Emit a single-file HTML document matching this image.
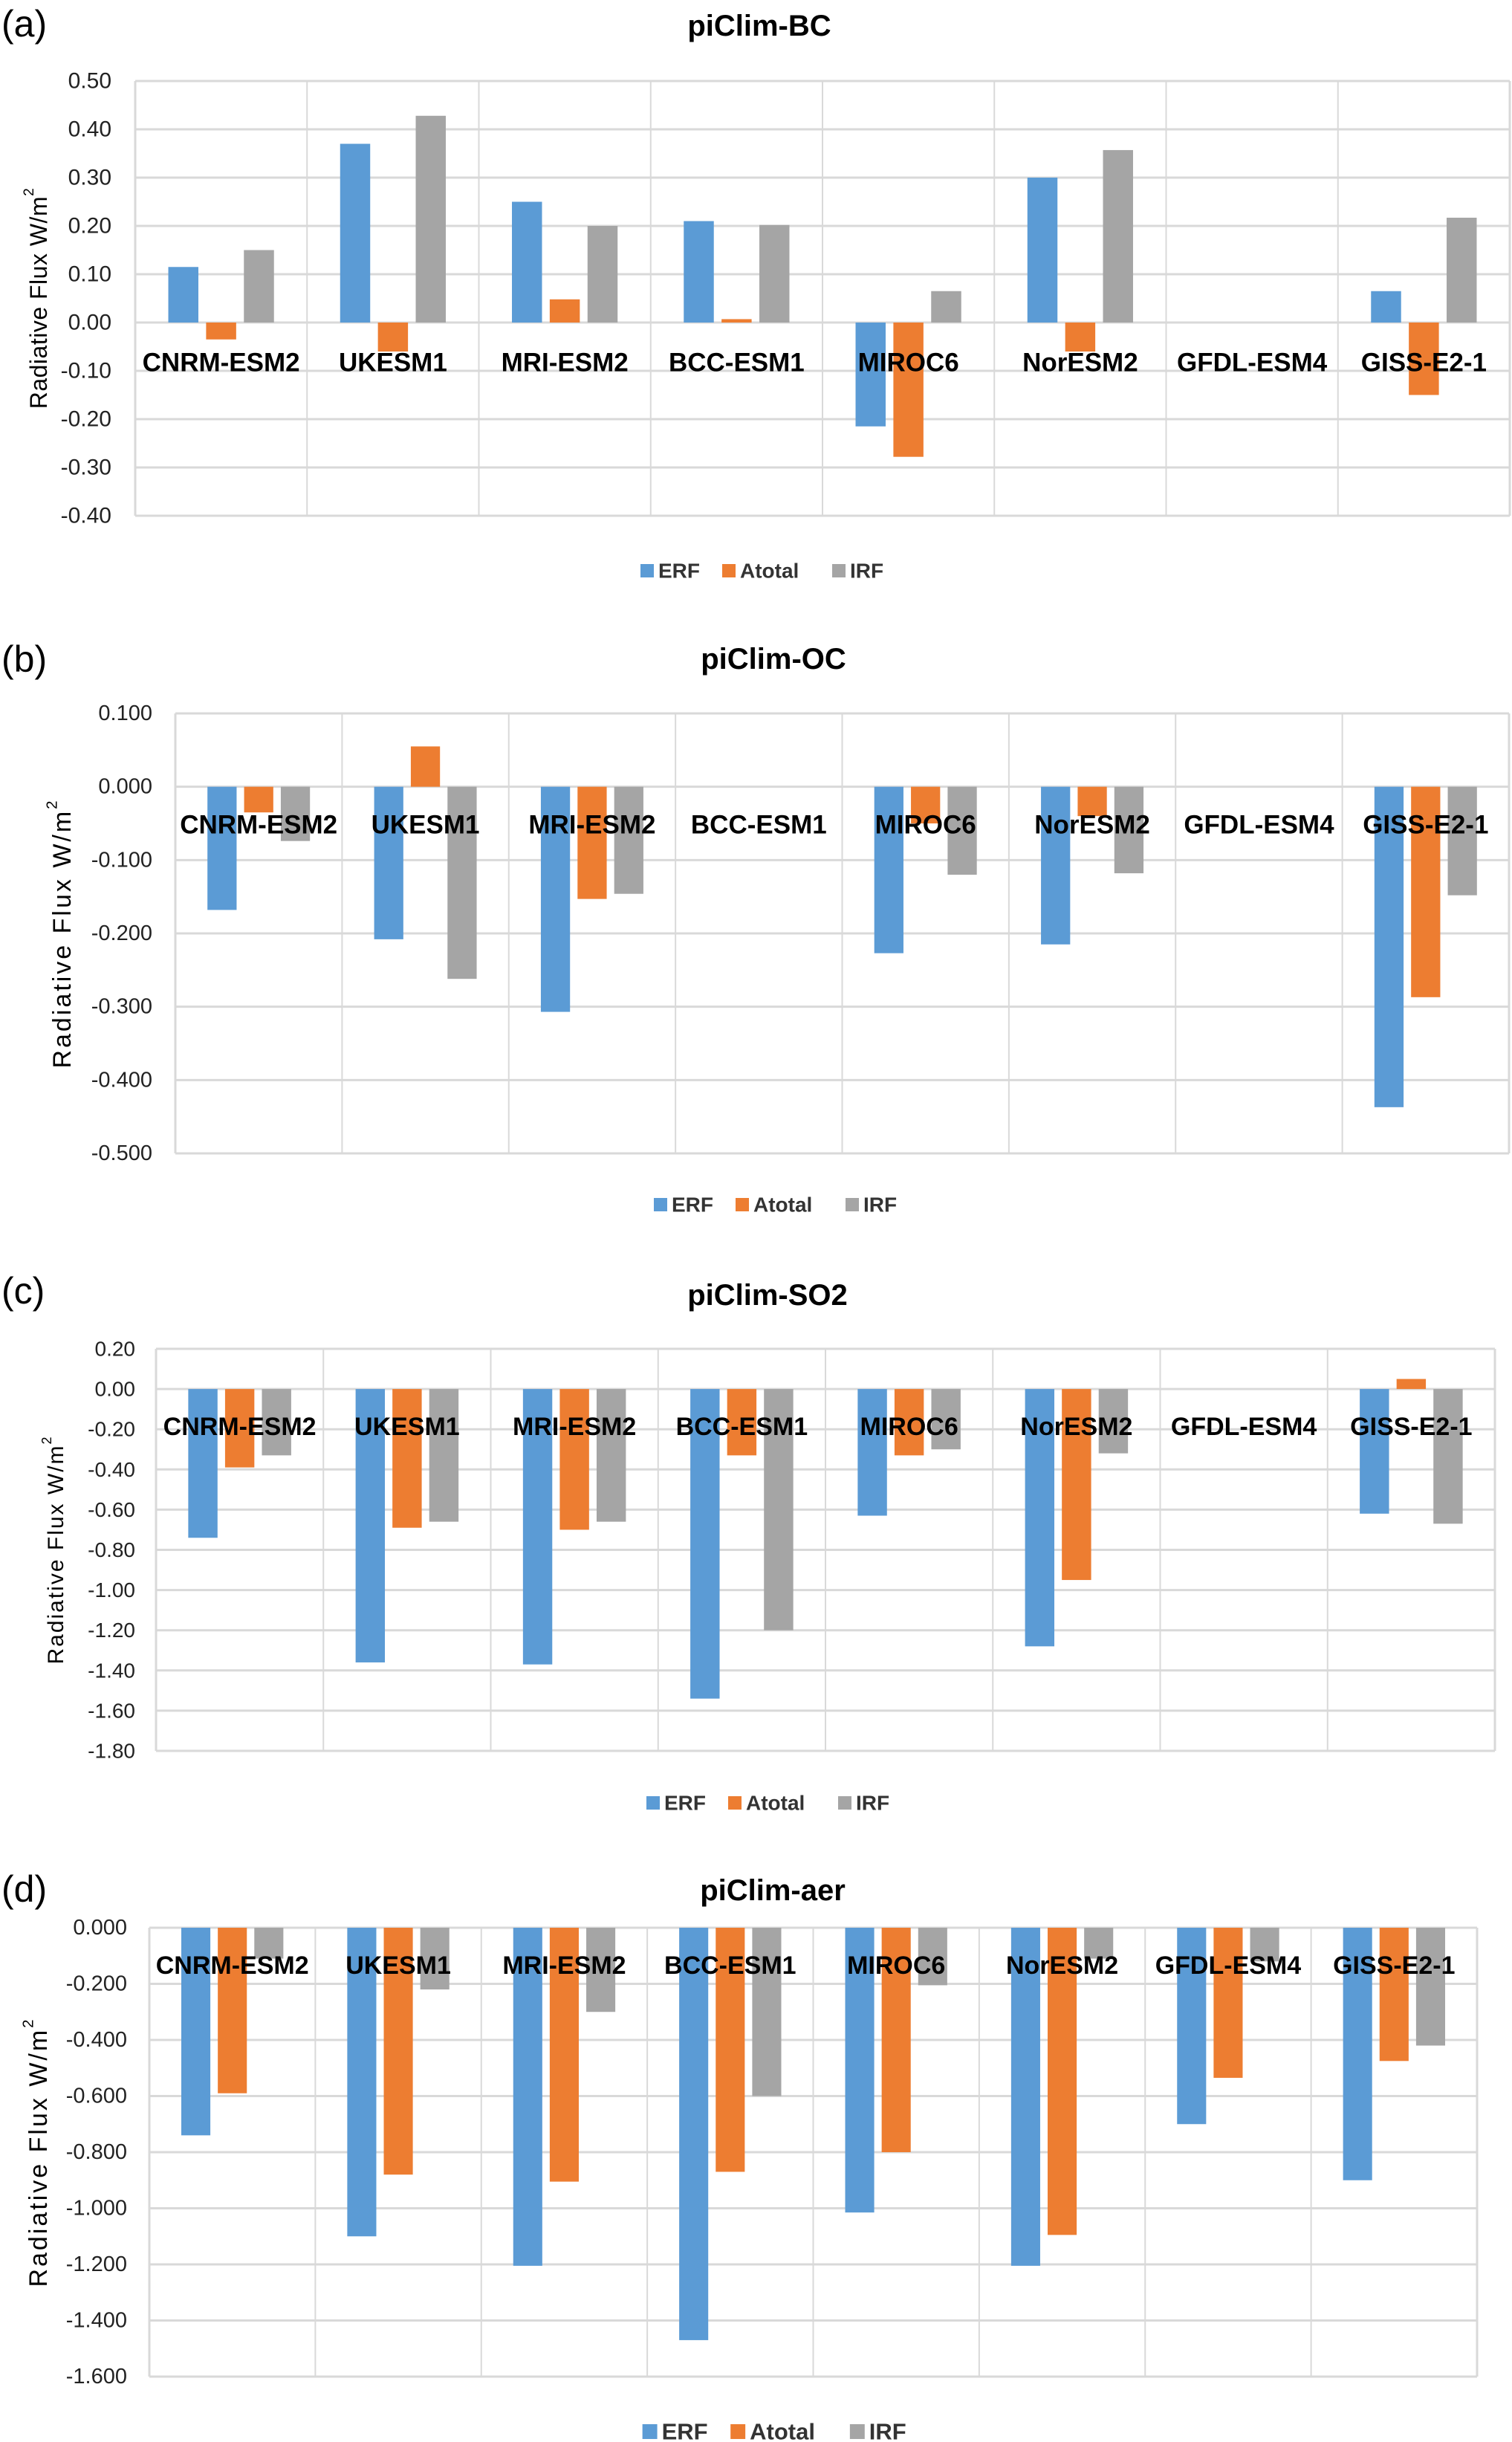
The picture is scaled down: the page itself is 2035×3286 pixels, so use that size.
<!DOCTYPE html>
<html><head><meta charset="utf-8"><style>
html,body{margin:0;padding:0;background:#fff;}
svg{display:block;font-family:"Liberation Sans",sans-serif;}
</style></head><body>
<svg id="fig" width="2035" height="3286" viewBox="0 0 2035 3286" xmlns="http://www.w3.org/2000/svg"></svg>
<script>
const categories = ["CNRM-ESM2","UKESM1","MRI-ESM2","BCC-ESM1","MIROC6","NorESM2","GFDL-ESM4","GISS-E2-1"];
const seriesNames = ["ERF","Atotal","IRF"];
// panel (a) piClim-BC
const bcERF    = [0.115, 0.370, 0.250, 0.210, -0.215, 0.300, null, 0.065];
const bcAtotal = [-0.035, -0.060, 0.048, 0.007, -0.278, -0.060, null, -0.150];
const bcIRF    = [0.150, 0.428, 0.200, 0.202, 0.065, 0.357, null, 0.217];
const bcTicks  = [0.5,0.4,0.3,0.2,0.1,0,-0.1,-0.2,-0.3,-0.4];
// panel (b) piClim-OC
const ocERF    = [-0.168, -0.208, -0.307, null, -0.227, -0.215, null, -0.437];
const ocAtotal = [-0.035, 0.055, -0.153, null, -0.050, -0.040, null, -0.287];
const ocIRF    = [-0.074, -0.262, -0.146, null, -0.120, -0.118, null, -0.148];
const ocTicks  = [0.1,0,-0.1,-0.2,-0.3,-0.4,-0.5];
// panel (c) piClim-SO2
const so2ERF    = [-0.74, -1.36, -1.37, -1.54, -0.63, -1.28, null, -0.62];
const so2Atotal = [-0.39, -0.69, -0.70, -0.33, -0.33, -0.95, null, 0.05];
const so2IRF    = [-0.33, -0.66, -0.66, -1.20, -0.30, -0.32, null, -0.67];
const so2Ticks  = [0.2,0,-0.2,-0.4,-0.6,-0.8,-1.0,-1.2,-1.4,-1.6,-1.8];
// panel (d) piClim-aer
const aerERF    = [-0.740, -1.100, -1.205, -1.470, -1.015, -1.205, -0.700, -0.900];
const aerAtotal = [-0.590, -0.880, -0.905, -0.870, -0.800, -1.095, -0.535, -0.475];
const aerIRF    = [-0.110, -0.220, -0.300, -0.600, -0.205, -0.110, -0.120, -0.420];
const aerTicks  = [0,-0.2,-0.4,-0.6,-0.8,-1.0,-1.2,-1.4,-1.6];

const colors = ["#5b9bd5","#ed7d31","#a5a5a5"];
const NS = "http://www.w3.org/2000/svg";
const svg = document.getElementById("fig");
function mk(tag, attrs, parent){
  const e = document.createElementNS(NS, tag);
  for (const k in attrs) e.setAttribute(k, attrs[k]);
  (parent||svg).appendChild(e);
  return e;
}
const panels = [
  {id:"a", title:"piClim-BC", series:[bcERF,bcAtotal,bcIRF], ticks:bcTicks, dec:2,
   L:182, R:2032, T:109, B:694, tickX:150, tickFs:30, titleX:1022, titleY:35, letterY:32,
   labY:488, labFs:35, legX:1029, legY:768, legFs:28, ytX:52, ytFs:32, ytLs:0.5},
  {id:"b", title:"piClim-OC", series:[ocERF,ocAtotal,ocIRF], ticks:ocTicks, dec:3,
   L:236, R:2031, T:960, B:1552, tickX:205, tickFs:29, titleX:1041, titleY:887, letterY:887,
   labY:1110, labFs:35, legX:1047, legY:1621, legFs:28, ytX:84, ytFs:34, ytLs:3},
  {id:"c", title:"piClim-SO2", series:[so2ERF,so2Atotal,so2IRF], ticks:so2Ticks, dec:2,
   L:210, R:2012, T:1815, B:2356, tickX:182, tickFs:28, titleX:1033, titleY:1743, letterY:1737,
   labY:1920, labFs:34, legX:1037, legY:2426, legFs:28, ytX:75, ytFs:30, ytLs:2},
  {id:"d", title:"piClim-aer", series:[aerERF,aerAtotal,aerIRF], ticks:aerTicks, dec:3,
   L:201, R:1988, T:2594, B:3198, tickX:171, tickFs:29, titleX:1040, titleY:2544, letterY:2542,
   labY:2645, labFs:34, legX:1046, legY:3272, legFs:31, ytX:52, ytFs:34, ytLs:3}
];
panels.forEach(p=>{
  const g = mk("g",{});
  
  
  const ymax = Math.max(...p.ticks), ymin = Math.min(...p.ticks);
  const y = v => p.T + (ymax - v)/(ymax - ymin)*(p.B - p.T);
  const n = categories.length;
  const W = (p.R - p.L)/n;
  const x = i => p.L + i*W;
  const lt = mk("text",{x:2,y:p.letterY,"font-size":50,"dominant-baseline":"central",fill:"#000"},g);
  lt.textContent = "("+p.id+")";
  
  
  const tt = mk("text",{x:p.titleX,y:p.titleY,"font-size":40,"font-weight":"bold","text-anchor":"middle","dominant-baseline":"central",fill:"#000"},g);
  tt.textContent = p.title;
  
  
  p.ticks.forEach(t=>{
    const gl = mk("line",{x1:p.L,x2:p.R,y1:y(t),y2:y(t),stroke:"#d9d9d9","stroke-width":3},g);
    
    
    const tl = mk("text",{x:p.tickX,y:y(t),"font-size":p.tickFs,"text-anchor":"end","dominant-baseline":"central",fill:"#222"},g);
    tl.textContent = t.toFixed(p.dec);
    
    
  });
  for (let i=0;i<=n;i++){
    const vl = mk("line",{x1:x(i),x2:x(i),y1:p.T,y2:p.B,stroke:"#d9d9d9","stroke-width":i==0||i==n?3:2},g);
    
    
  }
  const bw = W*0.175, gap = W*0.045, off = (W - (3*bw+2*gap))/2;
  p.series.forEach((arr,s)=>{
    arr.forEach((v,i)=>{
      if (v===null) return;
      const bx = x(i) + off + s*(bw+gap);
      const y0 = y(0), y1 = y(v);
      const r = mk("rect",{x:bx,y:Math.min(y0,y1),width:bw,height:Math.abs(y1-y0),fill:colors[s]},g);
      
      
    });
  });
  categories.forEach((c,i)=>{
    const cl = mk("text",{x:x(i)+W/2,y:p.labY,"font-size":p.labFs,"font-weight":"bold","text-anchor":"middle","dominant-baseline":"central",fill:"#000"},g);
    cl.textContent = c;
    
    
  });
  const cy = (p.T+p.B)/2;
  const yt = mk("text",{x:p.ytX,y:cy,"font-size":p.ytFs,"letter-spacing":p.ytLs,"text-anchor":"middle","dominant-baseline":"central",transform:"rotate(-90 "+p.ytX+" "+cy+")",fill:"#000"},g);
  
  
  const t1 = mk("tspan",{},yt); t1.textContent = "Radiative Flux W/m";
  const t2 = mk("tspan",{"font-size":p.ytFs*0.6,dy:-p.ytFs*0.4},yt); t2.textContent = "2";
  const k = p.legFs/28;
  const widths = [62*k, 100*k, 52*k];
  const sqz = 18*k;
  const total = widths.reduce((a,b)=>a+b,0) + sqz*3 + 6*3 + 24*2;
  let lx = p.legX - total/2;
  seriesNames.forEach((lab,s)=>{
    const sq = mk("rect",{x:lx,y:p.legY-sqz/2,width:sqz,height:sqz,fill:colors[s]},g);
    
    
    const lt2 = mk("text",{x:lx+sqz+6,y:p.legY,"font-size":p.legFs,"font-weight":"bold","dominant-baseline":"central",fill:"#333"},g);
    lt2.textContent = lab;
    
    
    lx += sqz + 6 + widths[s] + 24;
  });
});
</script>
</body></html>
